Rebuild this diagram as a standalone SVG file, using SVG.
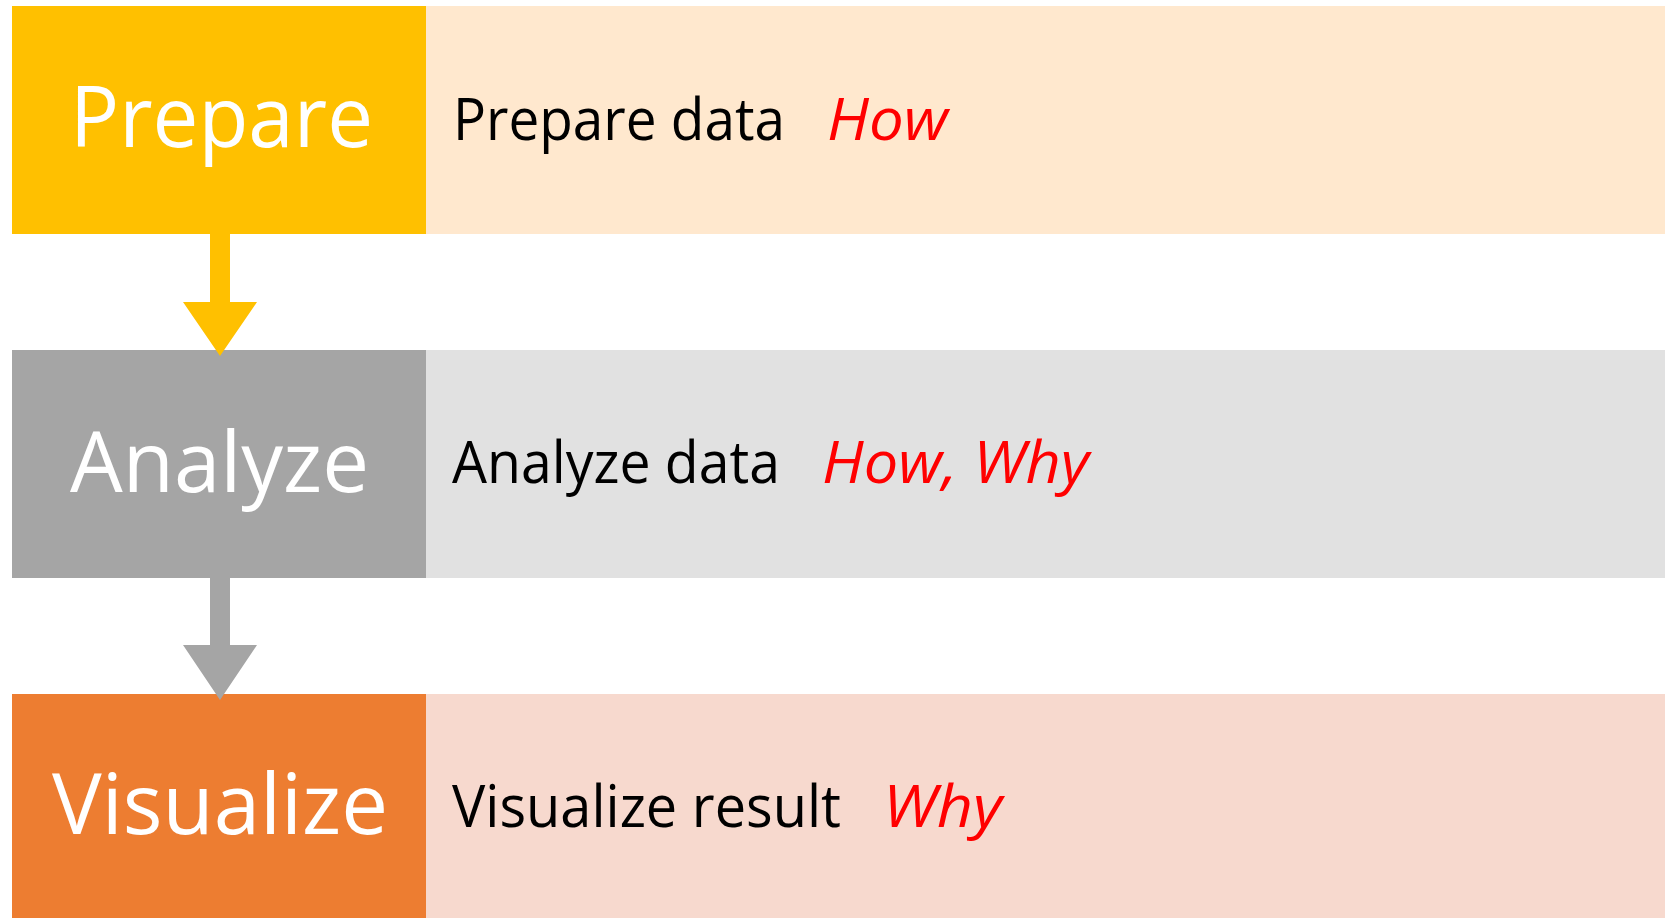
<svg xmlns="http://www.w3.org/2000/svg" width="1665" height="918" viewBox="0 0 1665 918">
<style>
.big{font-family:"Open Sans","Liberation Sans",sans-serif;font-size:85px;fill:#FFFFFF}
.desc{font-family:"Open Sans","Liberation Sans",sans-serif;font-size:59px;fill:#000000}
.em{font-family:"Open Sans","Liberation Sans",sans-serif;font-size:59px;font-style:italic;fill:#FF0000}
</style>
<rect width="1665" height="918" fill="#FFFFFF"/>
<g id="prepare">
<rect x="426" y="6" width="1239" height="228" fill="#FFE8CE"/>
<rect x="12" y="6" width="414" height="228" fill="#FFC000"/>
<text class="big" x="70" y="147" textLength="303" lengthAdjust="spacingAndGlyphs">Prepare</text>
<text class="desc" x="453" y="140" textLength="332" lengthAdjust="spacingAndGlyphs">Prepare data</text>
<text class="em" x="827" y="140" textLength="121" lengthAdjust="spacingAndGlyphs">How</text>
</g>
<g id="analyze">
<rect x="426" y="350" width="1239" height="228" fill="#E1E1E1"/>
<rect x="12" y="350" width="414" height="228" fill="#A5A5A5"/>
<text class="big" x="70" y="492" textLength="299" lengthAdjust="spacingAndGlyphs">Analyze</text>
<text class="desc" x="452" y="483" textLength="328" lengthAdjust="spacingAndGlyphs">Analyze data</text>
<text class="em" x="822" y="483" textLength="267" lengthAdjust="spacingAndGlyphs">How, Why</text>
</g>
<g id="visualize">
<rect x="426" y="694" width="1239" height="230" fill="#F7D9CE"/>
<rect x="12" y="694" width="414" height="230" fill="#ED7D31"/>
<text class="big" x="52" y="834" textLength="336" lengthAdjust="spacingAndGlyphs">Visualize</text>
<text class="desc" x="452" y="827" textLength="389" lengthAdjust="spacingAndGlyphs">Visualize result</text>
<text class="em" x="883" y="827" textLength="119" lengthAdjust="spacingAndGlyphs">Why</text>
</g>
<g id="connectors">
<polygon points="210,233 230,233 230,302 257,302 220,356 183,302 210,302" fill="#FFC000"/>
<polygon points="210,577 230,577 230,645 257,645 220,700 183,645 210,645" fill="#A5A5A5"/>
</g>
</svg>
